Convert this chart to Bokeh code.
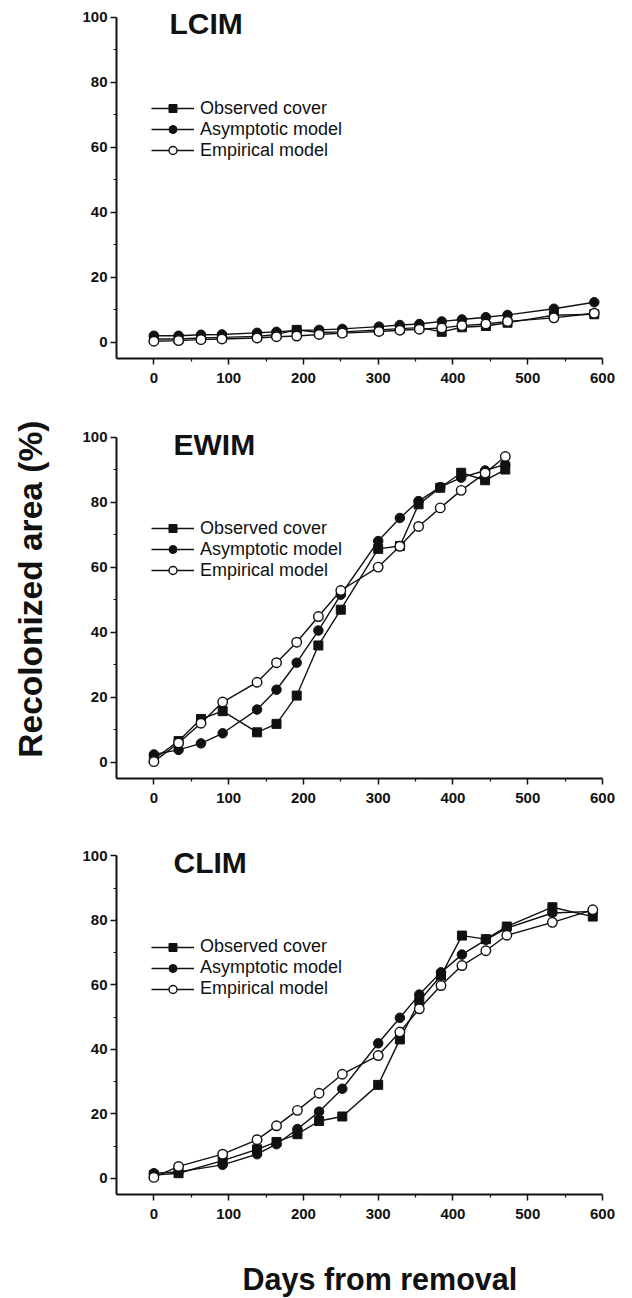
import math
from bokeh.plotting import figure
from bokeh.models import Legend, LegendItem, Label, Range1d, FixedTicker
from bokeh.layouts import column, row
from bokeh.embed import file_html
from bokeh.resources import INLINE

FONT = "Liberation Sans"

# ---------------- data ----------------
series_names = ["Observed cover", "Asymptotic model", "Empirical model"]
panel_titles = ["LCIM", "EWIM", "CLIM"]

days_lcim = [0, 33, 63, 91, 138, 164, 191, 221, 252, 301, 329, 355, 385, 412, 444, 473, 535, 589]
lcim_observed = [1.0, 1.0, 1.3, 1.5, 1.8, 2.4, 3.8, 3.0, 3.2, 3.8, 4.2, 4.5, 3.2, 4.6, 5.0, 6.0, 8.3, 8.6]
lcim_asymptotic = [2.0, 2.0, 2.3, 2.4, 2.9, 3.2, 3.6, 3.8, 4.1, 4.8, 5.3, 5.6, 6.4, 7.0, 7.7, 8.4, 10.3, 12.3]
lcim_empirical = [0.3, 0.5, 0.8, 1.0, 1.3, 1.7, 1.9, 2.4, 2.8, 3.3, 3.7, 4.0, 4.4, 5.1, 5.6, 6.4, 7.5, 8.9]

days_ewim = [0, 33, 63, 92, 138, 164, 191, 220, 250, 300, 329, 354, 383, 411, 443, 470]
ewim_observed = [1.0, 6.5, 13.3, 15.7, 9.2, 11.8, 20.5, 35.9, 46.9, 65.6, 66.5, 79.3, 84.4, 89.0, 86.7, 90.0]
ewim_asymptotic = [2.4, 3.8, 5.8, 8.9, 16.2, 22.3, 30.6, 40.5, 51.5, 68.0, 75.1, 80.3, 84.6, 87.5, 89.7, 91.6]
ewim_empirical = [0.2, 5.9, 12.0, 18.5, 24.6, 30.6, 36.9, 44.8, 52.8, 60.0, 66.4, 72.5, 78.2, 83.6, 88.9, 94.0]

days_clim = [0, 33, 92, 138, 164, 192, 221, 252, 300, 329, 355, 384, 412, 444, 472, 533, 587]
clim_observed = [1.0, 1.6, 5.5, 9.0, 11.3, 13.7, 17.8, 19.2, 29.0, 43.1, 55.0, 62.9, 75.3, 74.2, 78.1, 84.1, 81.2]
clim_asymptotic = [1.6, 2.0, 4.2, 7.5, 10.6, 15.3, 20.7, 27.8, 41.9, 49.8, 57.0, 63.9, 69.4, 74.0, 77.6, 82.3, 82.8]
clim_empirical = [0.3, 3.7, 7.5, 12.0, 16.3, 21.1, 26.4, 32.3, 38.1, 45.4, 52.6, 59.8, 66.0, 70.6, 75.4, 79.4, 83.3]

x_ticks = [0, 100, 200, 300, 400, 500, 600]
y_ticks = [0, 20, 40, 60, 80, 100]

y_axis_title = "Recolonized  area (%)"
x_axis_title = "Days from removal"

INK = "#111111"
LABEL_W = 50
PLOT_W = 574
FRAME_W = 486
BORDER_L = 66
TOTAL_H = 1298
Y_LO, Y_HI, Y_TOP = -5, 100, 102   # axis drawn -5..100, frame extends to 102 for the panel title


def make_panel(title, days, obs, asy, emp, border_top, frame_h, title_x, title_dy):
    border_bottom = 40
    height = border_top + frame_h + border_bottom
    p = figure(width=PLOT_W, height=height, output_backend="svg", toolbar_location=None,
               x_range=Range1d(-50, 600), y_range=Range1d(Y_LO, Y_TOP),
               min_border_left=BORDER_L, min_border_right=PLOT_W - BORDER_L - FRAME_W,
               min_border_top=border_top, min_border_bottom=border_bottom,
               background_fill_color="white", border_fill_color="white")
    p.outline_line_color = None
    p.xgrid.visible = False
    p.ygrid.visible = False

    for ax in (p.xaxis[0], p.yaxis[0]):
        ax.axis_line_width = 2
        ax.axis_line_color = INK
        ax.major_tick_line_color = INK
        ax.minor_tick_line_color = INK
        ax.major_tick_line_width = 1.5
        ax.minor_tick_line_width = 1.2
        ax.major_tick_in = 0
        ax.major_tick_out = 6
        ax.minor_tick_in = 0
        ax.minor_tick_out = 3
        ax.major_label_text_font = FONT
        ax.major_label_text_font_style = "bold"
        ax.major_label_text_font_size = "15px"
        ax.major_label_text_color = INK
    p.xaxis[0].ticker = FixedTicker(ticks=x_ticks, minor_ticks=[50, 150, 250, 350, 450, 550])
    p.yaxis[0].ticker = FixedTicker(ticks=y_ticks, minor_ticks=[10, 30, 50, 70, 90])
    p.yaxis[0].bounds = (Y_LO, Y_HI)
    p.xaxis[0].major_label_standoff = 8
    p.yaxis[0].major_label_standoff = 3

    lw = 1.4
    l1 = p.line(days, obs, line_color=INK, line_width=lw)
    m1 = p.scatter(days, obs, marker="square", size=9, fill_color=INK, line_color=INK)
    l2 = p.line(days, asy, line_color=INK, line_width=lw)
    m2 = p.scatter(days, asy, marker="circle", size=9.5, fill_color=INK, line_color=INK)
    l3 = p.line(days, emp, line_color=INK, line_width=lw)
    m3 = p.scatter(days, emp, marker="circle", size=9.5, fill_color="white", line_color=INK, line_width=1.4)

    ppu = frame_h / (Y_TOP - Y_LO)
    top100 = (Y_HI - Y_LO) * ppu          # height of the 100 level above the frame bottom
    legend = Legend(items=[
        LegendItem(label=series_names[0], renderers=[l1, m1]),
        LegendItem(label=series_names[1], renderers=[l2, m2]),
        LegendItem(label=series_names[2], renderers=[l3, m3]),
    ], location=(35, top100 - 144))
    legend.background_fill_alpha = 0
    legend.border_line_color = None
    legend.padding = 0
    legend.margin = 0
    legend.spacing = 0
    legend.glyph_width = 43
    legend.glyph_height = 20
    legend.label_height = 20
    legend.label_standoff = 6
    legend.label_text_font = FONT
    legend.label_text_font_size = "18px"
    legend.label_text_color = INK
    p.add_layout(legend, "center")

    p.add_layout(Label(x=title_x, y=top100 - title_dy, x_units="screen", y_units="screen",
                       text=title, text_font=FONT, text_font_style="bold",
                       text_font_size="30px", text_color=INK,
                       text_align="left", text_baseline="middle"))
    return p


def make_text_box(width, height):
    f = figure(width=width, height=height, output_backend="svg", toolbar_location=None,
               x_range=Range1d(0, 1), y_range=Range1d(0, 1),
               x_axis_location=None, y_axis_location=None,
               min_border=0, background_fill_color="white", border_fill_color="white")
    f.outline_line_color = None
    f.grid.visible = False
    return f


p1 = make_panel(panel_titles[0], days_lcim, lcim_observed, lcim_asymptotic, lcim_empirical,
                10, 348, 53, 6.6)
p2 = make_panel(panel_titles[1], days_ewim, ewim_observed, ewim_asymptotic, ewim_empirical,
                32, 348, 57, 7.5)
p3 = make_panel(panel_titles[2], days_clim, clim_observed, clim_asymptotic, clim_empirical,
                31, 345, 57, 7.0)

used_h = p1.height + p2.height + p3.height
xl_h = TOTAL_H - used_h
xl = make_text_box(PLOT_W, xl_h)
xl.add_layout(Label(x=379.4 - LABEL_W - BORDER_L, y=TOTAL_H - 1278, x_units="screen", y_units="screen",
                    text=x_axis_title, text_font=FONT, text_font_style="bold",
                    text_font_size="30.5px", text_color=INK,
                    text_align="center", text_baseline="middle"))

yl = make_text_box(LABEL_W, TOTAL_H)
yl.add_layout(Label(x=29.5, y=TOTAL_H - 584, x_units="screen", y_units="screen", angle=math.pi / 2,
                    text=y_axis_title, text_font=FONT, text_font_style="bold",
                    text_font_size="33.5px", text_color=INK,
                    text_align="center", text_baseline="middle"))

layout = row(yl, column(p1, p2, p3, xl, spacing=0), spacing=0)
open("out.html", "w").write(file_html(layout, INLINE))
